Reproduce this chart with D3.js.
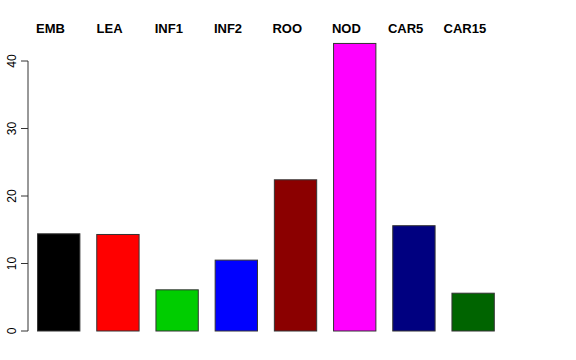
<!DOCTYPE html>
<html>
<head>
<meta charset="utf-8">
<script src="https://cdn.jsdelivr.net/npm/d3@7"></script>
<style>
  body { margin: 0; background: #fff; }
  svg { display: block; font-family: "Liberation Sans", Arial, sans-serif; }
</style>
</head>
<body>
<script>
// data
const groups = ["EMB", "LEA", "INF1", "INF2", "ROO", "NOD", "CAR5", "CAR15"];
const values = [14.4, 14.3, 6.1, 10.5, 22.4, 42.6, 15.6, 5.6];
const colors = ["#000000", "#ff0000", "#00cd00", "#0000ff", "#8b0000", "#ff00ff", "#000080", "#006400"];
const yTicks = [0, 10, 20, 30, 40];

const w = 576;
const h = 360;

// scales
const step = 59.2;
const x0 = 38 - step * 0.15;
const xScale = d3
  .scaleBand()
  .domain(groups)
  .range([x0, x0 + step * groups.length])
  .paddingInner(0.285)
  .paddingOuter(0.1425);

const yScale = d3.scaleLinear().domain([0, 40]).range([331, 61]);

const svg = d3
  .select("body")
  .append("svg")
  .attr("width", w)
  .attr("height", h);

// bars
svg
  .selectAll("rect")
  .data(values)
  .enter()
  .append("rect")
  .attr("x", (d, i) => xScale(groups[i]))
  .attr("y", (d) => yScale(d))
  .attr("width", xScale.bandwidth())
  .attr("height", (d) => yScale(0) - yScale(d))
  .attr("fill", (d, i) => colors[i])
  .attr("stroke", "#333")
  .attr("stroke-width", 1);

// labels on top (sit a bit left of the bar centres, like the original)
svg
  .selectAll(".grp")
  .data(groups)
  .enter()
  .append("text")
  .attr("class", "grp")
  .attr("x", (d) => xScale(d) + xScale.bandwidth() / 2 - 8.3)
  .attr("y", 33)
  .attr("text-anchor", "middle")
  .style("font-weight", "bold")
  .style("font-size", "13px")
  .text((d) => d);

// y axis
const yAxis = d3.axisLeft(yScale).tickValues(yTicks).tickSize(7).tickPadding(5);

const gy = svg
  .append("g")
  .attr("transform", "translate(28,0)")
  .call(yAxis);

gy.select(".domain").attr("stroke", "#333").attr("d", "M0," + yScale(40) + "V" + yScale(0));
gy.selectAll(".tick line").attr("stroke", "#333");
gy.selectAll(".tick text")
  .attr("transform", function (d) {
    return "rotate(-90," + (-12) + "," + yScale(d) + ")";
  })
  .attr("x", -12)
  .attr("y", (d) => yScale(d))
  .attr("dy", "0")
  .attr("text-anchor", "middle")
  .style("font-size", "12px")
  .style("font-family", "'Liberation Sans', Arial, sans-serif")
  .attr("fill", "#000");
gy.selectAll(".tick").attr("transform", null);
gy.selectAll(".tick line").attr("y1", (d) => yScale(d)).attr("y2", (d) => yScale(d));
</script>
</body>
</html>
